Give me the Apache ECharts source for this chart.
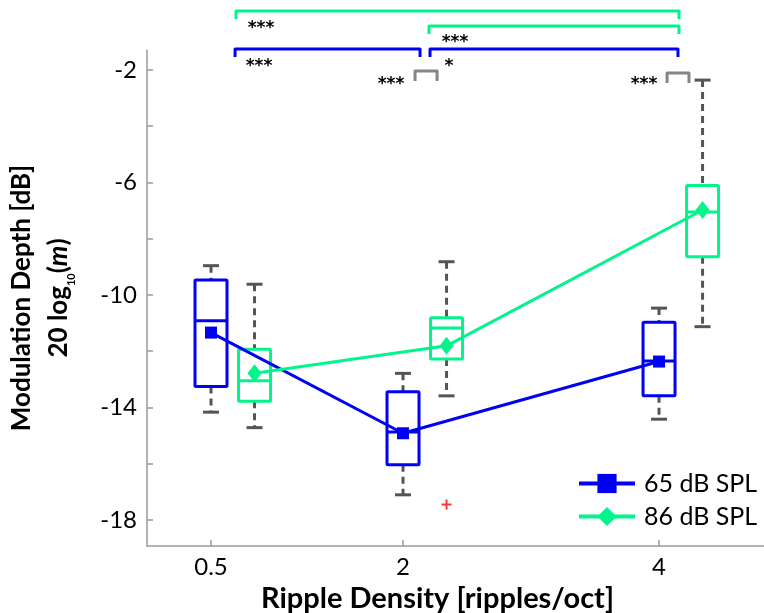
<!DOCTYPE html>
<html>
<head>
<meta charset="utf-8">
<script src="https://cdn.jsdelivr.net/npm/echarts@6/dist/echarts.min.js"></script>
<style>
  html, body { margin: 0; padding: 0; background: #fff; }
  #chart { width: 764px; height: 613px; }
</style>
</head>
<body>
<div id="chart"></div>
<script>
// ripple densities (ripples/oct)
const densities = [0.5, 2, 4];
const xTicks = [0.5, 2, 4];
const yTicks = [-2, -4, -6, -8, -10, -12, -14, -16, -18];
const yLabels = [-2, -6, -10, -14, -18];

// 65 dB SPL box stats
const low65 = [-14.17, -17.11, -14.42];
const q1_65 = [-13.26, -16.04, -13.59];
const med65 = [-10.92, -14.88, -12.35];
const q3_65 = [-9.47, -13.44, -10.97];
const high65 = [-8.96, -12.79, -10.47];
const mean65 = [-11.34, -14.92, -12.37];

// 86 dB SPL box stats
const low86 = [-14.72, -13.59, -11.13];
const q1_86 = [-13.78, -12.28, -8.64];
const med86 = [-13.05, -11.18, -7.05];
const q3_86 = [-11.93, -10.81, -6.11];
const high86 = [-9.62, -8.82, -2.36];
const mean86 = [-12.79, -11.81, -6.98];
const outliers86 = [[2, -17.45]];

// significance marks (data coords): [from, to, level, group]
const brackets = [
  [0.695, 4.156, 0.10, 'g'],
  [2.203, 4.156, -0.44, 'g'],
  [0.688, 2.133, -1.25, 'b'],
  [2.211, 4.148, -1.25, 'b'],
  [2.094, 2.266, -2.04, 'n'],
  [4.063, 4.234, -2.11, 'n']
];
const stars = [
  [0.891, -0.52, '***'],
  [2.406, -1.02, '***'],
  [0.875, -1.87, '***'],
  [2.359, -1.87, '*'],
  [1.906, -2.51, '***'],
  [3.883, -2.51, '***']
];

const BLUE = '#0000F5';
const GREEN = '#00F58A';
const WHISK = '#555555';
const FONT = 'Lato';
const shift86 = 0.34; // 86 dB boxes sit right of the tick
const bracketColours = { g: GREEN, b: BLUE, n: '#858585' };

function boxData(xs, lo, q1, md, q3, hi, dx) {
  return xs.map((x, i) => [x + dx, lo[i], q1[i], md[i], q3[i], hi[i]]);
}

function boxRenderer(colour) {
  return function (params, api) {
    const x = api.value(0);
    const pt = i => api.coord([x, api.value(i)]);
    const lo = pt(1), q1 = pt(2), md = pt(3), q3 = pt(4), hi = pt(5);
    const cx = lo[0], hw = 16, cw = 8;
    const dashed = { stroke: WHISK, lineWidth: 3, lineDash: [7, 5] };
    const solid = { stroke: WHISK, lineWidth: 3 };
    return {
      type: 'group',
      children: [
        { type: 'line', shape: { x1: cx, y1: hi[1], x2: cx, y2: q3[1] }, style: dashed },
        { type: 'line', shape: { x1: cx, y1: q1[1], x2: cx, y2: lo[1] }, style: dashed },
        { type: 'line', shape: { x1: cx - cw, y1: hi[1], x2: cx + cw, y2: hi[1] }, style: solid },
        { type: 'line', shape: { x1: cx - cw, y1: lo[1], x2: cx + cw, y2: lo[1] }, style: solid },
        { type: 'rect', shape: { x: cx - hw, y: q3[1], width: hw * 2, height: q1[1] - q3[1], r: 1 },
          style: { fill: 'none', stroke: colour, lineWidth: 3 } },
        { type: 'line', shape: { x1: cx - hw, y1: md[1], x2: cx + hw, y2: md[1] },
          style: { stroke: colour, lineWidth: 3 } }
      ]
    };
  };
}

const chart = echarts.init(document.getElementById('chart'));

chart.setOption({
  animation: false,
  grid: { show: false, left: 147, right: 0, top: 50, bottom: 67, outerBoundsMode: 'none' },
  legend: {
    data: ['65 dB SPL', '86 dB SPL'],
    orient: 'vertical',
    left: 572,
    top: 466,
    itemWidth: 56,
    itemHeight: 24,
    itemGap: 8,
    lineStyle: { width: 4 },
    textStyle: { fontFamily: FONT, fontSize: 25, color: '#000', padding: [0, 0, 0, 4] }
  },
  xAxis: {
    type: 'value',
    min: 0,
    max: 4.82,
    name: 'Ripple Density [ripples/oct]',
    nameLocation: 'middle',
    nameGap: 34,
    nameTextStyle: { fontFamily: FONT, fontSize: 29, fontWeight: 'bold', color: '#000', padding: [0, 36, 0, 0] },
    axisLine: { show: true, onZero: false, lineStyle: { color: '#9a9a9a', width: 1.5 } },
    axisTick: { show: true, inside: true, length: 6, customValues: xTicks, lineStyle: { color: '#9a9a9a', width: 1.5 } },
    axisLabel: { customValues: xTicks, fontFamily: FONT, fontSize: 24, color: '#000', margin: 9 },
    splitLine: { show: false }
  },
  yAxis: {
    type: 'value',
    min: -18.93,
    max: -1.29,
    name: '{b|Modulation Depth [dB]}\n{b|20 log}{s|10}{b|(}{i|m}{b|)}',
    nameLocation: 'middle',
    nameRotate: 90,
    nameGap: 70,
    nameTextStyle: {
      fontFamily: FONT, fontSize: 26, fontWeight: 'bold', color: '#000', lineHeight: 37,
      rich: {
        b: { fontFamily: FONT, fontSize: 26, fontWeight: 'bold', color: '#000', lineHeight: 37 },
        s: { fontFamily: FONT, fontSize: 11, fontWeight: 'bold', color: '#000', verticalAlign: 'bottom', lineHeight: 37 },
        i: { fontFamily: FONT, fontSize: 26, fontWeight: 'bold', fontStyle: 'italic', color: '#000', lineHeight: 37 }
      }
    },
    axisLine: { show: true, onZero: false, lineStyle: { color: '#9a9a9a', width: 1.5 } },
    axisTick: { show: true, inside: true, length: 6, customValues: yTicks, lineStyle: { color: '#9a9a9a', width: 1.5 } },
    axisLabel: { customValues: yLabels, fontFamily: FONT, fontSize: 24, color: '#000', margin: 10 },
    splitLine: { show: false }
  },
  series: [
    {
      name: 'box65',
      type: 'custom',
      renderItem: boxRenderer(BLUE),
      encode: { x: 0, y: [1, 2, 3, 4, 5] },
      data: boxData(densities, low65, q1_65, med65, q3_65, high65, 0),
      z: 1,
      silent: true
    },
    {
      name: 'box86',
      type: 'custom',
      renderItem: boxRenderer(GREEN),
      encode: { x: 0, y: [1, 2, 3, 4, 5] },
      data: boxData(densities, low86, q1_86, med86, q3_86, high86, shift86),
      z: 1,
      silent: true
    },
    {
      name: '65 dB SPL',
      type: 'line',
      data: densities.map((x, i) => [x, mean65[i]]),
      symbol: 'rect',
      symbolSize: 12,
      itemStyle: { color: BLUE },
      lineStyle: { color: BLUE, width: 3 },
      z: 3
    },
    {
      name: '86 dB SPL',
      type: 'line',
      data: densities.map((x, i) => [x + shift86, mean86[i]]),
      symbol: 'diamond',
      symbolSize: [14, 18],
      itemStyle: { color: GREEN },
      lineStyle: { color: GREEN, width: 3 },
      z: 3
    },
    {
      name: 'outliers',
      type: 'scatter',
      data: outliers86.map(p => [p[0] + shift86, p[1]]),
      symbol: 'path://M4,0H6V4H10V6H6V10H4V6H0V4H4Z',
      symbolSize: 10,
      itemStyle: { color: '#FF0000' },
      z: 3
    },
    {
      name: 'brackets',
      type: 'custom',
      clip: false,
      silent: true,
      encode: { x: [0, 1], y: 2 },
      data: brackets.map(b => [b[0], b[1], b[2]]),
      renderItem: function (params, api) {
        const b = brackets[params.dataIndex];
        const a = api.coord([b[0], b[2]]);
        const c = api.coord([b[1], b[2]]);
        const drop = b[3] === 'n' ? 10 : 8;
        return {
          type: 'polyline',
          shape: { points: [[a[0], a[1] + drop], [a[0], a[1]], [c[0], c[1]], [c[0], c[1] + drop]] },
          style: { fill: null, stroke: bracketColours[b[3]], lineWidth: 3, lineJoin: 'round' }
        };
      }
    },
    {
      name: 'stars',
      type: 'custom',
      clip: false,
      silent: true,
      encode: { x: 0, y: 1 },
      data: stars.map(s => [s[0], s[1]]),
      renderItem: function (params, api) {
        const p = api.coord([api.value(0), api.value(1)]);
        return {
          type: 'text',
          x: p[0],
          y: p[1],
          style: {
            text: stars[params.dataIndex][2],
            fontFamily: 'DejaVu Sans', fontSize: 17, fontWeight: 'bold', fill: '#000',
            align: 'center', verticalAlign: 'middle'
          }
        };
      }
    }
  ]
});
</script>
</body>
</html>
